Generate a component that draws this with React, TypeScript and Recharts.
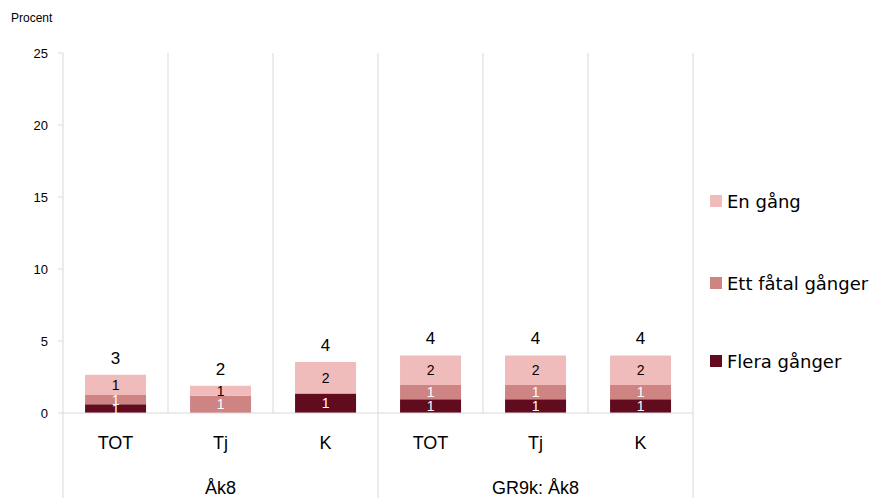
import React from 'react';
import { BarChart, Bar, XAxis, YAxis, CartesianGrid, LabelList } from 'recharts';

const categories = ['TOT', 'Tj', 'K', 'TOT', 'Tj', 'K'];
const groups = ['Åk8', 'Åk8', 'Åk8', 'GR9k: Åk8', 'GR9k: Åk8', 'GR9k: Åk8'];
const fleraGanger = [0.6, 0, 1.35, 0.95, 0.95, 0.95];
const ettFatalGanger = [0.65, 1.2, 0, 1.0, 1.0, 1.0];
const enGang = [1.4, 0.7, 2.2, 2.05, 2.05, 2.05];
const yTicks = [0, 5, 10, 15, 20, 25];

const seriesNames = ['En gång', 'Ett fåtal gånger', 'Flera gånger'];
const seriesColors = ['#F0BBBB', '#CD8482', '#620B1E'];

const data = categories.map((c, i) => ({
  cat: c,
  group: groups[i],
  flera: fleraGanger[i],
  fatal: ettFatalGanger[i],
  en: enGang[i],
  total: fleraGanger[i] + ettFatalGanger[i] + enGang[i],
}));

const W = 875;
const H = 498;
const MARGIN = { top: 53, right: 182, bottom: 0, left: 0 };
const Y_WIDTH = 63;
const X_HEIGHT = 85;
const PLOT_W = W - MARGIN.left - MARGIN.right - Y_WIDTH;
const PLOT_BOTTOM = H - MARGIN.bottom - X_HEIGHT;
const BAND = PLOT_W / categories.length;
const FONT = '"Liberation Sans", Arial, sans-serif';
const LEGEND_FONT = '"DejaVu Sans", Verdana, sans-serif';
const GRID = '#D9D9D9';

const fmt = (v: any) => {
  const n = Number(v);
  if (!n) return '';
  return String(Math.round(n));
};

const CatTick = (props: any) => {
  const { x, payload, index } = props;
  const i = index ?? payload.index;
  const els: any[] = [];
  els.push(
    <text key="c" x={x} y={PLOT_BOTTOM + 36} textAnchor="middle" fontSize={18} fill="#000" fontFamily={FONT}>
      {payload.value}
    </text>
  );
  if (i === 1 || i === 4) {
    els.push(
      <text key="g" x={x} y={PLOT_BOTTOM + 81} textAnchor="middle" fontSize={18} fill="#000" fontFamily={FONT}>
        {groups[i]}
      </text>
    );
  }
  if (i === 0 || i === 3) {
    els.push(<line key="s" x1={x - BAND / 2} x2={x - BAND / 2} y1={PLOT_BOTTOM} y2={H} stroke={GRID} strokeWidth={1} />);
  }
  if (i === categories.length - 1) {
    els.push(<line key="e" x1={x + BAND / 2} x2={x + BAND / 2} y1={PLOT_BOTTOM} y2={H} stroke={GRID} strokeWidth={1} />);
  }
  return <g>{els}</g>;
};

const LegendBlock = () => (
  <div style={{ position: 'absolute', left: 710, top: 189, fontFamily: LEGEND_FONT, fontSize: 18, color: '#000' }}>
    {seriesNames.map((n, i) => (
      <div key={n} style={{ display: 'flex', alignItems: 'center', height: 24, marginBottom: i === 0 ? 58 : 54, whiteSpace: 'nowrap' }}>
        <span style={{ display: 'inline-block', width: 12, height: 12, background: seriesColors[i], marginRight: 5 }} />
        <span>{n}</span>
      </div>
    ))}
  </div>
);

export default function App() {
  return (
    <div style={{ position: 'absolute', left: 0, top: 0, width: W, height: H, background: '#fff' }}>
      <div style={{ position: 'absolute', left: 11, top: 11, fontFamily: FONT, fontSize: 12, color: '#000' }}>Procent</div>
      <BarChart width={W} height={H} data={data} margin={MARGIN} barCategoryGap="21%">
        <CartesianGrid
          horizontal={false}
          vertical
          stroke={GRID}
          verticalCoordinatesGenerator={({ offset }: any) =>
            categories.map((_, i) => offset.left + (i + 1) * (offset.width / categories.length))
          }
        />
        <XAxis
          dataKey="cat"
          height={X_HEIGHT}
          axisLine={{ stroke: GRID }}
          tickLine={false}
          interval={0}
          tick={<CatTick />}
        />
        <YAxis
          width={Y_WIDTH}
          domain={[0, 25]}
          ticks={yTicks}
          axisLine={{ stroke: GRID }}
          tickLine={{ stroke: GRID }}
          tickSize={5}
          tickMargin={10}
          tick={{ fontSize: 13, fill: '#000', fontFamily: FONT }}
        />
        <Bar dataKey="flera" stackId="a" fill={seriesColors[2]} isAnimationActive={false} name={seriesNames[2]}>
          <LabelList dataKey="flera" position="center" formatter={fmt} fill="#fff" fontSize={14} fontFamily={FONT} />
        </Bar>
        <Bar dataKey="fatal" stackId="a" fill={seriesColors[1]} isAnimationActive={false} name={seriesNames[1]}>
          <LabelList dataKey="fatal" position="center" formatter={fmt} fill="#fff" fontSize={14} fontFamily={FONT} />
        </Bar>
        <Bar dataKey="en" stackId="a" fill={seriesColors[0]} isAnimationActive={false} name={seriesNames[0]}>
          <LabelList dataKey="en" position="center" formatter={fmt} fill="#000" fontSize={14} fontFamily={FONT} />
          <LabelList dataKey="total" position="top" offset={11} formatter={fmt} fill="#000" fontSize={17} fontFamily={FONT} />
        </Bar>
      </BarChart>
      <LegendBlock />
    </div>
  );
}
